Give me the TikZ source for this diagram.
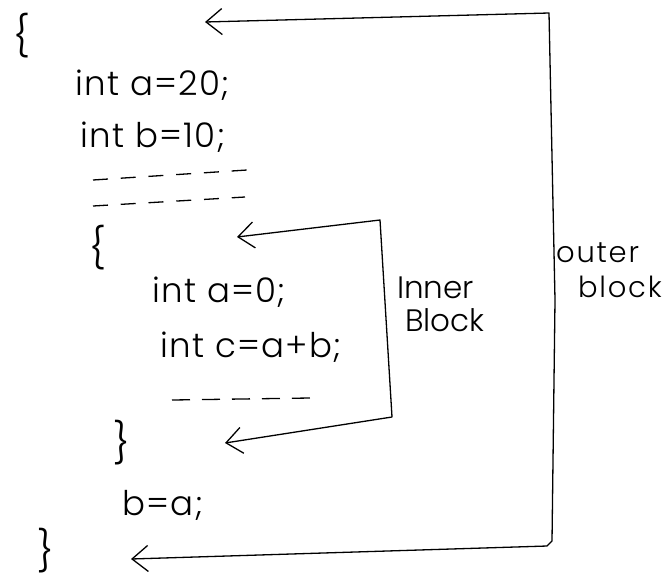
\documentclass[tikz,border=0pt]{standalone}
\usepackage{fontspec}
\setmainfont{Poppins}[UprightFont=* Light]
\usetikzlibrary{arrows.meta}
\begin{document}
\begin{tikzpicture}[x=1pt,y=-1pt,
  stroke/.style={line width=1.3pt, line cap=round, line join=round},
  conn/.style={stroke, arrows={Straight Barb[length=16pt,width=26pt]-Straight Barb[length=16pt,width=26pt]}},
  code/.style={anchor=base west, inner sep=0pt, font=\fontsize{34}{40}\selectfont\addfontfeatures{LetterSpace=4}},
  bracket/.style={anchor=center, inner sep=0pt, font=\fontsize{40}{46}\selectfont},
  note/.style={anchor=base west, inner sep=0pt, font=\fontsize{31}{36}\selectfont},
  side/.style={anchor=base west, inner sep=0pt, font=\fontsize{29}{34}\selectfont\addfontfeatures{LetterSpace=6}},
  dashrow/.style={line width=1.3pt, line cap=butt, dash pattern=on 15pt off 12.8pt}]
\useasboundingbox (0,0) rectangle (668,579);

% braces of the two blocks
\node[bracket] (oopen)  at (22,36)  {\{};
\node[bracket] (iopen)  at (98,248) {\{};
\node[bracket] (iclose) at (122,443) {\}};
\node[bracket] (oclose) at (46,551) {\}};

% statements
\node[code] (sa) at (75,95)   {int a=20;};
\node[code] (sb) at (80,147)  {int b=10;};
\node[code] (sia) at (152,302) {int a=0;};
\node[code] (sic) at (160,357) {int c=a+b;};
\node[code] (sba) at (122,515) {b=a;};

% elided statements
\draw[dashrow] (93,180) -- (247,170);
\draw[dashrow] (93,206) -- (245,197);
\draw[dashrow, dash pattern=on 18pt off 12pt] (172,400) -- (310,398);

% labels
\node[note] (inner1) at (397,298) {Inner};
\node[note] (inner2) at (405,331) {Block};
\node[side] (outer1) at (556,262) {outer};
\node[side] (outer2) at (578,297) {block};

% outer block bracket
\coordinate (otip)  at (205,22);
\coordinate (otop)  at (549,13);
\coordinate (omid)  at (555,300);
\coordinate (obot)  at (552,541);
\coordinate (obend) at (547,546);
\coordinate (obtip) at (131,559);
\draw[conn] (otip) -- (otop) -- (omid) -- (obot) -- (obend) -- (obtip);

% inner block bracket
\coordinate (itip)  at (237,237);
\coordinate (itop)  at (380,220);
\coordinate (ibot)  at (392,417);
\coordinate (ibtip) at (225,443);
\draw[conn] (itip) -- (itop) -- (ibot) -- (ibtip);
\end{tikzpicture}
\end{document}
